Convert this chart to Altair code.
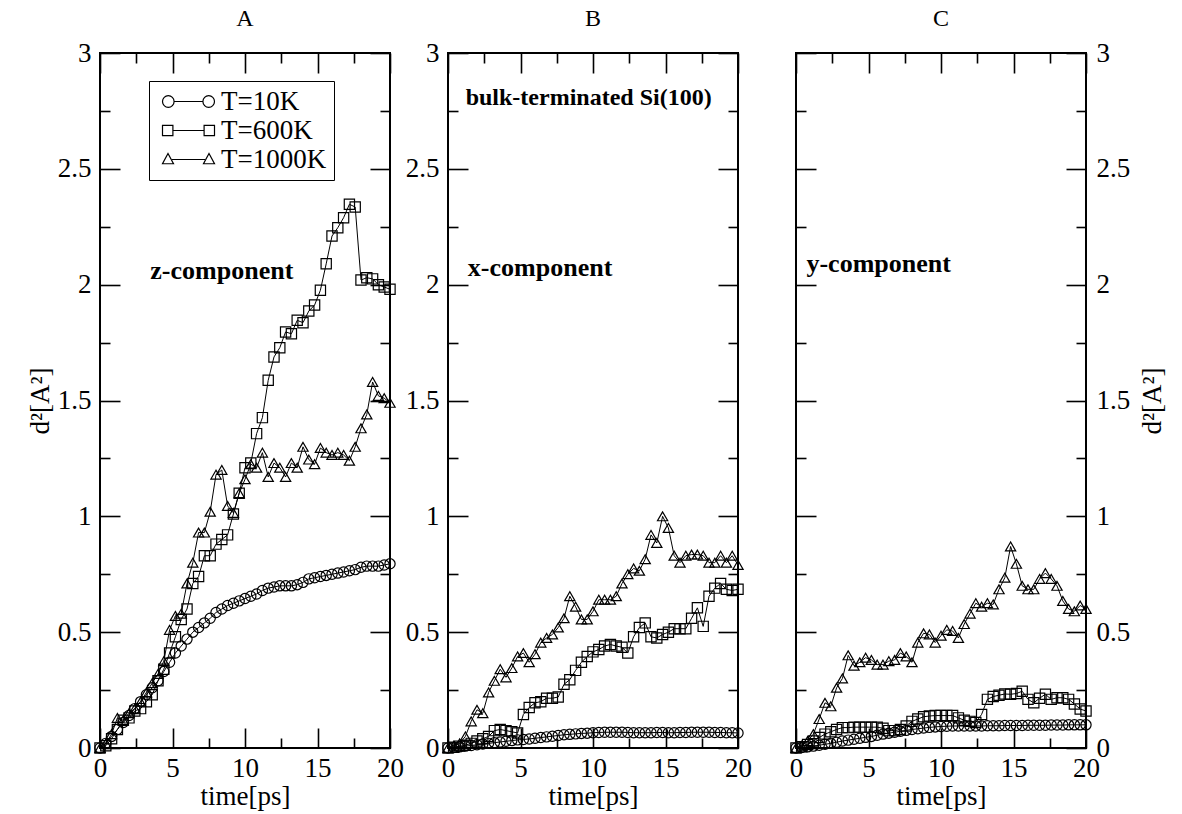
import altair as alt
import pandas as pd

SERIF = "Liberation Serif"

TIME = [0.0, 0.4, 0.8, 1.2, 1.6, 2.0, 2.4, 2.8, 3.2, 3.6, 4.0, 4.4, 4.8, 5.2, 5.6, 6.0, 6.4,
        6.8, 7.2, 7.6, 8.0, 8.4, 8.8, 9.2, 9.6, 10.0, 10.4, 10.8, 11.2, 11.6, 12.0, 12.4,
        12.8, 13.2, 13.6, 14.0, 14.4, 14.8, 15.2, 15.6, 16.0, 16.4, 16.8, 17.2, 17.6, 18.0,
        18.4, 18.8, 19.2, 19.6, 20.0]

SERIES = ["T=10K", "T=600K", "T=1000K"]
PANELS = ["A", "B", "C"]

# panel A : z-component
A_10K = [0, 0.02, 0.05, 0.08, 0.11, 0.14, 0.17, 0.2, 0.23, 0.26, 0.29, 0.33, 0.37, 0.41, 0.44,
         0.47, 0.5, 0.52, 0.54, 0.56, 0.585, 0.60, 0.615, 0.625, 0.635, 0.645, 0.655, 0.665,
         0.68, 0.69, 0.695, 0.70, 0.70, 0.70, 0.705, 0.715, 0.73, 0.735, 0.74, 0.745, 0.75,
         0.755, 0.76, 0.765, 0.77, 0.78, 0.785, 0.785, 0.785, 0.79, 0.795]
A_600K = [0, 0.01, 0.04, 0.08, 0.12, 0.13, 0.16, 0.17, 0.2, 0.23, 0.29, 0.34, 0.41, 0.48, 0.555,
          0.6, 0.71, 0.74, 0.83, 0.83, 0.88, 0.90, 0.92, 1.01, 1.10, 1.21, 1.23, 1.357, 1.426,
          1.587, 1.688, 1.728, 1.796, 1.788, 1.846, 1.836, 1.886, 1.912, 1.976, 2.09, 2.21,
          2.246, 2.289, 2.347, 2.335, 2.02, 2.03, 2.025, 2.0, 1.99, 1.98]
A_1000K = [0, 0.02, 0.06, 0.13, 0.12, 0.15, 0.17, 0.2, 0.24, 0.28, 0.32, 0.375, 0.51, 0.57, 0.58,
           0.71, 0.80, 0.93, 0.93, 1.02, 1.18, 1.20, 1.045, 1.015, 1.10, 1.16, 1.225, 1.21,
           1.275, 1.17, 1.23, 1.21, 1.17, 1.23, 1.21, 1.30, 1.245, 1.225, 1.295, 1.275, 1.265,
           1.275, 1.265, 1.24, 1.30, 1.38, 1.44, 1.58, 1.52, 1.51, 1.49]

# panel B : x-component
B_10K = [0, 0.002, 0.005, 0.008, 0.011, 0.014, 0.017, 0.02, 0.023, 0.026, 0.029, 0.032, 0.035,
         0.037, 0.039, 0.042, 0.045, 0.048, 0.051, 0.054, 0.057, 0.059, 0.061, 0.063, 0.064,
         0.066, 0.067, 0.068, 0.068, 0.068, 0.068, 0.067, 0.066, 0.066, 0.066, 0.066, 0.067,
         0.067, 0.066, 0.066, 0.067, 0.067, 0.068, 0.068, 0.068, 0.068, 0.067, 0.067, 0.066,
         0.066, 0.065]
B_600K = [0, 0.003, 0.008, 0.012, 0.02, 0.03, 0.04, 0.05, 0.075, 0.08, 0.075, 0.07, 0.065, 0.145,
          0.175, 0.195, 0.2, 0.215, 0.215, 0.22, 0.275, 0.295, 0.335, 0.37, 0.395, 0.415, 0.425,
          0.44, 0.447, 0.44, 0.435, 0.41, 0.48, 0.52, 0.54, 0.48, 0.475, 0.49, 0.5, 0.515,
          0.515, 0.515, 0.56, 0.605, 0.525, 0.655, 0.69, 0.71, 0.685, 0.68, 0.685]
B_1000K = [0, 0.01, 0.02, 0.05, 0.115, 0.165, 0.15, 0.24, 0.29, 0.34, 0.305, 0.345, 0.395, 0.41,
           0.37, 0.405, 0.455, 0.475, 0.49, 0.52, 0.56, 0.655, 0.61, 0.555, 0.555, 0.59, 0.64,
           0.64, 0.64, 0.655, 0.71, 0.75, 0.775, 0.765, 0.815, 0.92, 0.885, 1.0, 0.95, 0.83,
           0.80, 0.83, 0.835, 0.835, 0.83, 0.80, 0.80, 0.83, 0.80, 0.83, 0.79]

# panel C : y-component
C_10K = [0, 0.002, 0.005, 0.008, 0.012, 0.016, 0.02, 0.025, 0.03, 0.034, 0.038, 0.042, 0.046,
         0.05, 0.055, 0.06, 0.064, 0.068, 0.072, 0.076, 0.08, 0.083, 0.086, 0.089, 0.091,
         0.093, 0.094, 0.095, 0.095, 0.095, 0.095, 0.095, 0.095, 0.096, 0.096, 0.096, 0.097,
         0.097, 0.097, 0.097, 0.098, 0.098, 0.098, 0.098, 0.099, 0.099, 0.099, 0.1, 0.1, 0.1,
         0.1]
C_600K = [0, 0.005, 0.015, 0.03, 0.045, 0.06, 0.07, 0.08, 0.088, 0.088, 0.09, 0.09, 0.09, 0.09,
          0.09, 0.085, 0.075, 0.075, 0.08, 0.095, 0.115, 0.125, 0.135, 0.138, 0.14, 0.14, 0.14,
          0.14, 0.13, 0.12, 0.115, 0.11, 0.145, 0.21, 0.222, 0.228, 0.233, 0.232, 0.235, 0.245,
          0.21, 0.195, 0.215, 0.232, 0.21, 0.217, 0.217, 0.21, 0.19, 0.168, 0.16]
C_1000K = [0, 0.01, 0.03, 0.06, 0.125, 0.195, 0.18, 0.26, 0.30, 0.40, 0.355, 0.37, 0.39, 0.38,
           0.36, 0.36, 0.375, 0.38, 0.41, 0.395, 0.37, 0.455, 0.495, 0.49, 0.455, 0.485, 0.51,
           0.505, 0.475, 0.535, 0.58, 0.625, 0.61, 0.625, 0.62, 0.685, 0.735, 0.87, 0.795, 0.70,
           0.685, 0.685, 0.73, 0.755, 0.73, 0.70, 0.635, 0.60, 0.59, 0.615, 0.60]

DATA = {
    "A": [A_10K, A_600K, A_1000K],
    "B": [B_10K, B_600K, B_1000K],
    "C": [C_10K, C_600K, C_1000K],
}

X_MAJOR = [0, 5, 10, 15, 20]
X_MINOR = [2.5, 7.5, 12.5, 17.5]
Y_MAJOR = [0, 0.5, 1, 1.5, 2, 2.5, 3]
Y_MINOR = [0.25, 0.75, 1.25, 1.75, 2.25, 2.75]

ANN_PANEL = ["A", "B", "C", "B"]
ANN_TEXT = ["z-component", "x-component", "y-component", "bulk-terminated Si(100)"]
ANN_T = [8.4, 6.35, 5.7, 9.7]
ANN_V = [2.06, 2.07, 2.09, 2.806]
ANN_SIZE = [26, 26, 26, 24]

Y_TITLE = "d\u00b2[A\u00b2]"
X_TITLE = "time[ps]"

# legend glyphs: marker - line - marker (symbol unit = 5 px)
LEGEND_PATHS = [
    "M-2.88,0A1.16,1.16 0 1,1 -5.2,0A1.16,1.16 0 1,1 -2.88,0M-2.88,0L2.88,0"
    "M5.2,0A1.16,1.16 0 1,1 2.88,0A1.16,1.16 0 1,1 5.2,0",
    "M-5.2,-1.04L-3.12,-1.04L-3.12,1.04L-5.2,1.04ZM-3.12,0L3.12,0"
    "M3.12,-1.04L5.2,-1.04L5.2,1.04L3.12,1.04Z",
    "M-4.1,-1.2L-3.0,0.85L-5.2,0.85ZM-3.3,0L3.3,0M4.1,-1.2L5.2,0.85L3.0,0.85Z",
]

W, H = 290, 695

rows = []
for p in PANELS:
    for s, vals in zip(SERIES, DATA[p]):
        for t, v in zip(TIME, vals):
            rows.append({"panel": p, "T": s, "t": t, "v": v})
df = pd.DataFrame(rows)

ann_df = pd.DataFrame({"panel": ANN_PANEL, "label": ANN_TEXT, "t": ANN_T, "v": ANN_V, "fs": ANN_SIZE})
axis_df = pd.DataFrame({"t": [0.0], "v": [0.0]})


def xs():
    return alt.Scale(domain=[0, 20], nice=False, zero=False)


def ys():
    return alt.Scale(domain=[0, 3], nice=False, zero=False)


def tick_axis(orient, offset, values, size):
    return alt.Axis(orient=orient, offset=offset, values=values, tickSize=size, labels=False,
                    domain=False, grid=False, title=None, ticks=True, tickColor="black",
                    tickWidth=1.6)


def make_panel(key):
    d = df[df.panel == key]
    base = alt.Chart(d)

    x_lab = alt.Axis(orient="bottom", values=X_MAJOR, ticks=False, domain=False, grid=False,
                     labelFont=SERIF, labelFontSize=27, labelPadding=7, labelColor="black",
                     labelFlush=False, labelOverlap=False, format="~g",
                     title=X_TITLE, titleFont=SERIF, titleFontSize=27, titleFontWeight="normal",
                     titleColor="black", titlePadding=2)
    if key == "C":
        y_lab = alt.Axis(orient="right", values=Y_MAJOR, ticks=False, domain=False, grid=False,
                         labelFont=SERIF, labelFontSize=27, labelPadding=10, labelColor="black",
                         labelOverlap=False, format="~g", title=Y_TITLE, titleFont=SERIF,
                         titleFontSize=27, titleFontWeight="normal", titleColor="black",
                         titleAngle=270, titleBaseline="top", titlePadding=10)
    else:
        y_lab = alt.Axis(orient="left", values=Y_MAJOR, ticks=False, domain=False, grid=False,
                         labelFont=SERIF, labelFontSize=27, labelPadding=9, labelColor="black",
                         labelOverlap=False, format="~g",
                         title=(Y_TITLE if key == "A" else None), titleFont=SERIF,
                         titleFontSize=27, titleFontWeight="normal", titleColor="black",
                         titlePadding=3)

    lines = base.mark_line(color="black", strokeWidth=1).encode(
        x=alt.X("t:Q", scale=xs(), axis=x_lab),
        y=alt.Y("v:Q", scale=ys(), axis=y_lab),
        detail="T:N",
    )
    points = base.mark_point(filled=False, color="black", size=105, strokeWidth=1.2,
                             opacity=1).encode(
        x=alt.X("t:Q", scale=xs(), axis=None),
        y=alt.Y("v:Q", scale=ys(), axis=None),
        shape=alt.Shape("T:N", scale=alt.Scale(domain=SERIES,
                                               range=["circle", "square", "triangle-up"]),
                        legend=None),
    )

    tick_layers = []
    specs = [
        (("top", -H, X_MAJOR, 20), ("right", -W, Y_MAJOR, 20)),
        (("top", -H, X_MINOR, 10), ("right", -W, Y_MINOR, 10)),
        (("bottom", -H, X_MAJOR, 20), ("left", -W, Y_MAJOR, 20)),
        (("bottom", -H, X_MINOR, 10), ("left", -W, Y_MINOR, 10)),
    ]
    for xa, ya in specs:
        tick_layers.append(
            alt.Chart(axis_df).mark_point(opacity=0).encode(
                x=alt.X("t:Q", scale=xs(), axis=tick_axis(*xa)),
                y=alt.Y("v:Q", scale=ys(), axis=tick_axis(*ya)),
            )
        )

    a = ann_df[ann_df.panel == key]
    texts = []
    for _, r in a.iterrows():
        texts.append(
            alt.Chart(pd.DataFrame([r])).mark_text(font=SERIF, fontSize=int(r["fs"]),
                                                   fontWeight="bold", color="black",
                                                   baseline="middle", align="center").encode(
                x=alt.X("t:Q", scale=xs(), axis=None),
                y=alt.Y("v:Q", scale=ys(), axis=None),
                text="label:N",
            )
        )

    layers = [lines, points] + tick_layers + texts

    if key == "A":
        leg = alt.Chart(axis_df.assign(T="x")).transform_filter("false").mark_point(
            filled=False, color="black", opacity=1).encode(
            x=alt.X("t:Q", scale=xs(), axis=None),
            y=alt.Y("v:Q", scale=ys(), axis=None),
            shape=alt.Shape("T:N", scale=alt.Scale(domain=SERIES, range=LEGEND_PATHS),
                            legend=alt.Legend(
                                orient="none", legendX=49, legendY=28, title=None,
                                labelFont=SERIF, labelFontSize=27, labelColor="black",
                                symbolSize=100, symbolOffset=19, labelOffset=19,
                                symbolStrokeColor="black",
                                symbolFillColor="transparent", symbolStrokeWidth=1.2,
                                symbolOpacity=1, rowPadding=1,
                                padding=7, strokeColor="black", fillColor="white",
                                labelLimit=300)),
        )
        layers.append(leg)

    return alt.layer(*layers).resolve_axis(x="independent", y="independent").resolve_scale(
        shape="independent").properties(
        width=W, height=H,
        title=alt.TitleParams(key, font=SERIF, fontSize=24, fontWeight="normal",
                              color="black", offset=8, anchor="middle"),
    )


chart = alt.hconcat(*[make_panel(k) for k in PANELS], spacing=58, bounds="flush").resolve_scale(
    shape="independent").resolve_legend(shape="independent").configure_view(
    stroke="black", strokeWidth=2).properties(
    padding={"left": 25, "top": 6, "right": 5, "bottom": 5}, background="white")

chart.save("out.html", embed_options={"renderer": "svg", "actions": False})
